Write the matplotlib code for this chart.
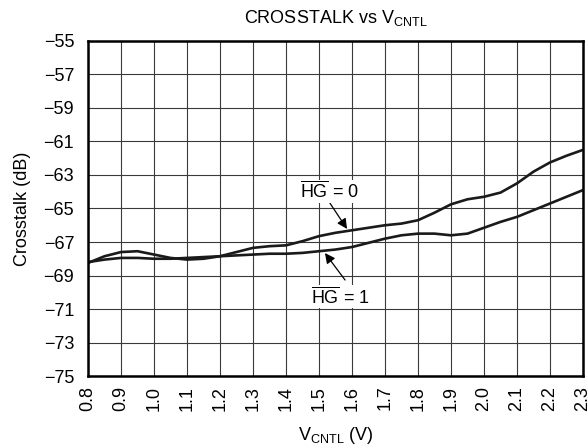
import numpy as np
import matplotlib
matplotlib.use('Agg')
import matplotlib.pyplot as plt

plt.rcParams['font.family'] = ['Liberation Sans', 'DejaVu Sans']
plt.rcParams['mathtext.fontset'] = 'custom'
plt.rcParams['mathtext.rm'] = 'Liberation Sans'
plt.rcParams['mathtext.it'] = 'Liberation Sans:italic'

# control voltage (V)
v_cntl = [0.80, 0.85, 0.90, 0.95, 1.00, 1.05, 1.10, 1.15, 1.20, 1.25, 1.30,
          1.35, 1.40, 1.45, 1.50, 1.55, 1.60, 1.65, 1.70, 1.75, 1.80, 1.85,
          1.90, 1.95, 2.00, 2.05, 2.10, 2.15, 2.20, 2.25, 2.30]
# crosstalk (dB), HG = 0
xt_hg0 = [-68.25, -67.85, -67.6, -67.55, -67.75, -67.95, -68.05, -68.0, -67.85,
          -67.6, -67.35, -67.25, -67.2, -66.95, -66.65, -66.45, -66.3, -66.15,
          -66.0, -65.9, -65.7, -65.25, -64.75, -64.45, -64.3, -64.05, -63.5,
          -62.8, -62.25, -61.85, -61.5]
# crosstalk (dB), HG = 1
xt_hg1 = [-68.2, -68.05, -67.95, -67.95, -68.0, -68.0, -67.95, -67.9, -67.85,
          -67.8, -67.75, -67.7, -67.7, -67.65, -67.55, -67.45, -67.3, -67.05,
          -66.8, -66.6, -66.5, -66.5, -66.6, -66.5, -66.15, -65.8, -65.5,
          -65.1, -64.7, -64.3, -63.9]

x_ticks = [0.8, 0.9, 1.0, 1.1, 1.2, 1.3, 1.4, 1.5, 1.6, 1.7, 1.8, 1.9, 2.0, 2.1, 2.2, 2.3]
y_ticks = [-55, -57, -59, -61, -63, -65, -67, -69, -71, -73, -75]

fig = plt.figure(figsize=(5.88, 4.48), dpi=100)
ax = fig.add_axes([0.1497, 0.1607, 0.8418, 0.7478])

ax.plot(v_cntl, xt_hg0, color='#1a1a1a', lw=1.9, solid_joinstyle='round')
ax.plot(v_cntl, xt_hg1, color='#1a1a1a', lw=1.9, solid_joinstyle='round')

ax.set_xlim(0.8, 2.3)
ax.set_ylim(-75, -55)
ax.set_xticks(x_ticks)
ax.set_xticklabels([f'{t:.1f}' for t in x_ticks], rotation=90)
ax.set_yticks(y_ticks)
ax.tick_params(length=0, labelsize=13)
ax.tick_params(axis='y', pad=10)
ax.tick_params(axis='x', pad=7)
ax.grid(True, color='#3a3a3a', lw=0.8)
for s in ax.spines.values():
    s.set_linewidth(1.8)

ax.set_title(r'CROSSTALK vs V$_{\mathrm{CNTL}}$', fontsize=13, pad=13)
ax.set_ylabel('Crosstalk (dB)', fontsize=13, labelpad=9)
ax.set_xlabel(r'V$_{\mathrm{CNTL}}$ (V)', fontsize=13, labelpad=10)

# annotations
aprops = dict(arrowstyle='-|>', color='black', lw=0.9, mutation_scale=15,
              shrinkA=0, shrinkB=0)
ax.annotate('', xy=(1.585, -66.22), xytext=(1.527, -64.5), arrowprops=aprops)
ax.text(1.533, -64.0, r'$\overline{\mathrm{HG}}$ = 0', ha='center', va='center',
        fontsize=13, bbox=dict(fc='white', ec='none', pad=0.5))
ax.annotate('', xy=(1.518, -67.66), xytext=(1.579, -69.27), arrowprops=aprops)
ax.text(1.564, -70.28, r'$\overline{\mathrm{HG}}$ = 1', ha='center', va='center',
        fontsize=13, bbox=dict(fc='white', ec='none', pad=0.5))

fig.savefig('out.png', dpi=100)
